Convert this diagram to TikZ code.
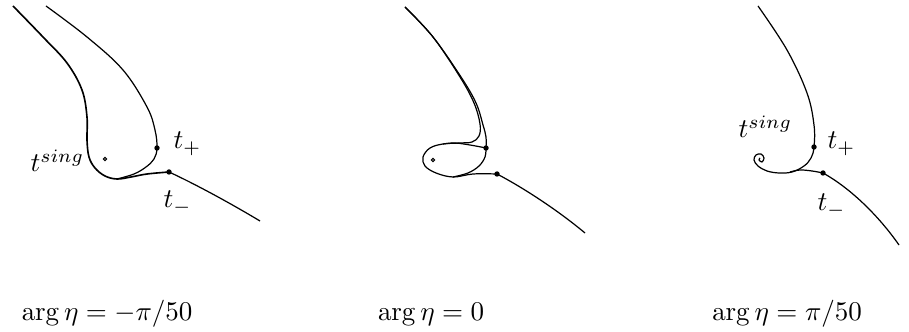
\documentclass[tikz,border=0pt]{standalone}
\usepackage{amsmath,amssymb}
\tikzset{
  capt/.style={font=\normalsize,inner sep=0pt},
  lab/.style={font=\normalsize,inner sep=0pt},
  crv/.style={draw=black,line width=0.45pt,line join=round},
  crvb/.style={draw=black,line width=0.6pt,line join=round},
  sng/.style={draw=black,line width=0.35pt,fill=white},
}
\begin{document}
\begin{tikzpicture}[x=0.013cm,y=-0.013cm]
  \useasboundingbox (0,0) rectangle (909,332);
  % arg eta = -pi/50
  \coordinate (tp1) at (157,148);
  \coordinate (tm1) at (169,172);
  \coordinate (ts1) at (105,159);
  \draw[crvb] plot[smooth,tension=0.6] coordinates {(13,6) (43,37) (67,63) (82,90) (87,117) (87,140) (89,157) (95,168) (105,176) (117,179) (131,177) (147,174) (tm1)};
  \draw[crv] plot[smooth,tension=0.6] coordinates {(46,6) (87,37) (123,70) (147,107) (155,130) (tp1) (154,159) (146,167) (134,174) (117,179)};
  \draw[crv] (tm1) .. controls (195,184) and (230,203) .. (260,221);
  \fill (tp1) circle (1pt);
  \fill (tm1) circle (1pt);
  \draw[sng] (ts1) circle (0.6pt);
  \node[lab,anchor=base west] (ls1) at (30,172) {$t^{sing}$};
  \node[lab,anchor=base west] (lp1) at (173,149) {$t_+$};
  \node[lab,anchor=base west] (lm1) at (163,208) {$t_-$};
  \node[capt,anchor=base] (c1) at (107,321) {$\arg\eta=-\pi/50$};
  % arg eta = 0
  \coordinate (tp2) at (486,148);
  \coordinate (tm2) at (497,174);
  \coordinate (ts2) at (433,160);
  \draw[crv] plot[smooth,tension=0.6] coordinates {(405,7) (433,37) (460,77) (474,103) (480,124) (479,136) (472,142) (460,143) (443,144) (430,148) (423,157) (425,166) (436,173) (453,177) (473,174) (tm2)};
  \draw[crv] plot[smooth,tension=0.6] coordinates {(405,7) (433,37) (461,77) (476,103) (483,125) (486,137) (tp2)};
  \draw[crv] plot[smooth,tension=0.6] coordinates {(tp2) (470,145) (455,143) (443,144)};
  \draw[crv] plot[smooth,tension=0.6] coordinates {(tp2) (485,157) (479,166) (468,173) (453,177)};
  \draw[crv] (tm2) .. controls (520,186) and (555,208) .. (585,233);
  \fill (tp2) circle (1pt);
  \fill (tm2) circle (1pt);
  \draw[sng] (ts2) circle (0.6pt);
  \node[capt,anchor=base] (c2) at (431,321) {$\arg\eta=0$};
  % arg eta = pi/50
  \coordinate (tp3) at (814,147);
  \coordinate (tm3) at (823,173);
  \draw[crv] plot[smooth,tension=0.6] coordinates {(758,6) (787,50) (807,93) (814,125) (tp3) (811,158) (804,166) (792,172) (779,173) (767,171) (758,166) (754,160) (756,155) (761,154) (764,158) (762,162) (759,160) (760,158)};
  \draw[crv] plot[smooth,tension=0.6] coordinates {(tm3) (812,171) (800,170) (790,172)};
  \draw[crv] (tm3) .. controls (850,188) and (878,215) .. (899,245);
  \fill (tp3) circle (1pt);
  \fill (tm3) circle (1pt);
  \node[lab,anchor=base west] (ls3) at (738,138) {$t^{sing}$};
  \node[lab,anchor=base west] (lp3) at (827,149) {$t_+$};
  \node[lab,anchor=base west] (lm3) at (817,211) {$t_-$};
  \node[capt,anchor=base] (c3) at (787,321) {$\arg\eta=\pi/50$};
\end{tikzpicture}
\end{document}
